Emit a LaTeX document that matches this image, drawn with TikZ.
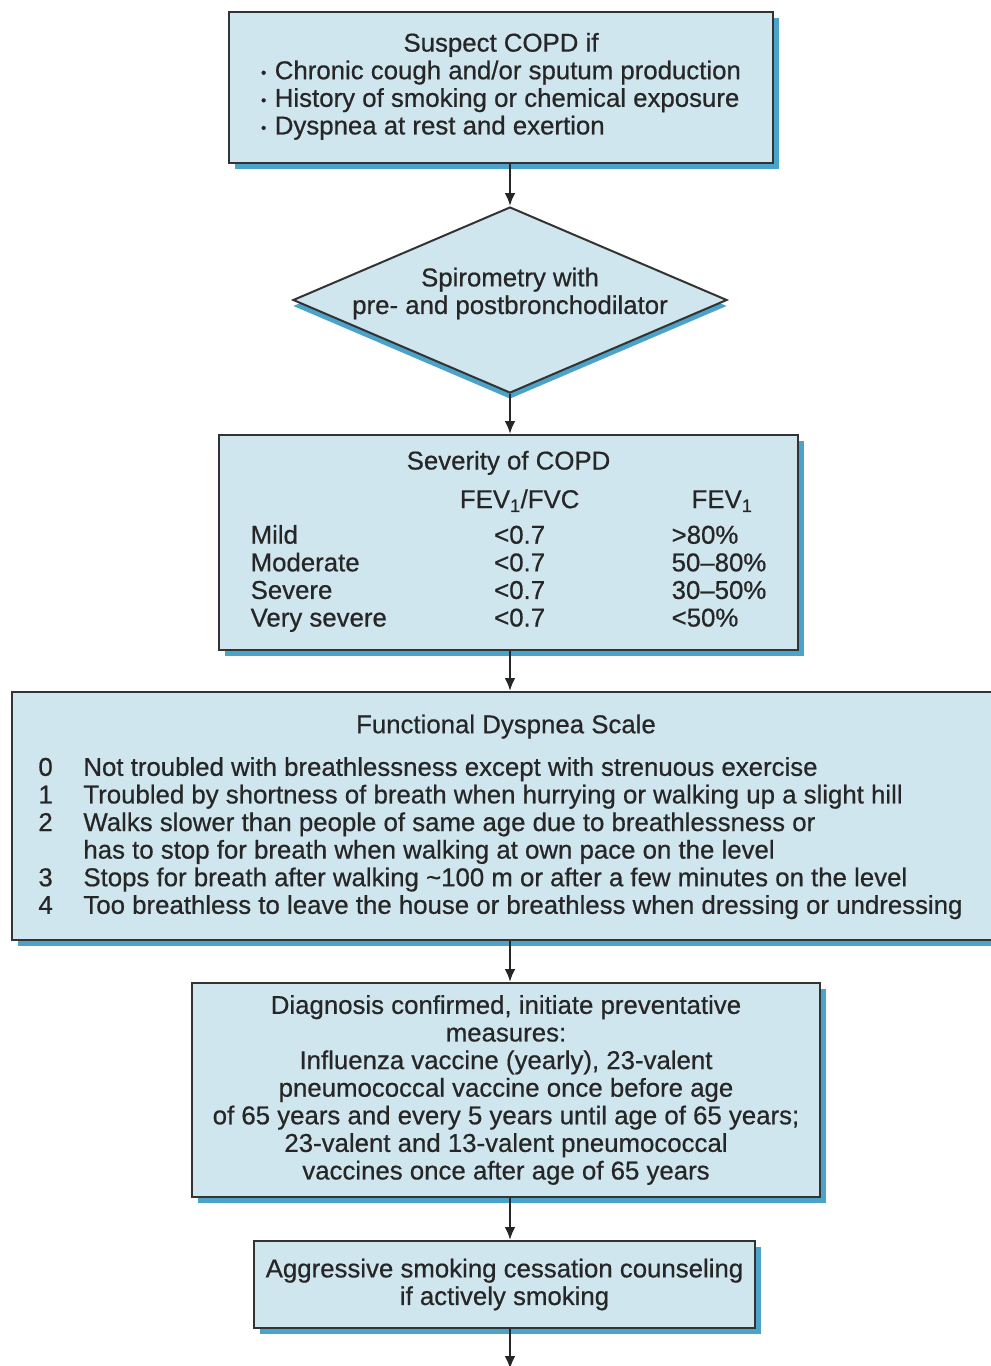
\documentclass[tikz,border=0pt]{standalone}
\usepackage{fontspec}
\setmainfont[FakeBold=0.6]{Liberation Sans}
\usepackage{array}
\usetikzlibrary{arrows.meta,shapes.geometric,shadows}
\definecolor{boxfill}{HTML}{D0E6EF}
\definecolor{boxline}{HTML}{333333}
\definecolor{shadowblue}{HTML}{4BA3C9}
\definecolor{inkgray}{HTML}{262626}
% small round bullet for the symptom list
\newcommand{\listdot}{{\fontsize{15}{15}\selectfont\raisebox{1.5pt}{•}}\hspace{8.5pt}}
\begin{document}
\begin{tikzpicture}[x=1pt,y=-1pt,
  every node/.style={text=inkgray, font=\fontsize{25.8}{27.6}\selectfont},
  flowbox/.style={draw=boxline, line width=2pt, fill=boxfill, inner sep=0pt,
    drop shadow={shadow xshift=6pt, shadow yshift=-6pt, fill=shadowblue, opacity=1}},
  flowdiamond/.style={diamond, draw=boxline, line width=2pt, fill=boxfill, inner sep=0pt,
    aspect=2.33,
    drop shadow={shadow xshift=0pt, shadow yshift=-6pt, fill=shadowblue, opacity=1}},
  plain/.style={inner sep=0pt},
  flowarrow/.style={draw=black!85, line width=2.4pt, -{Latex[length=13pt,width=11pt]}}]
\useasboundingbox (0,0) rectangle (991,1366);

% step 1: suspicion
\node[flowbox, minimum width=544pt, minimum height=151pt] (b1) at (501,87.5)
  {\begin{tabular}{@{}l@{}}
    \multicolumn{1}{@{}c@{}}{Suspect COPD if}\\
    \listdot Chronic cough and/or sputum production\\
    \listdot History of smoking or chemical exposure\\
    \listdot Dyspnea at rest and exertion
  \end{tabular}};

% step 2: spirometry
\node[flowdiamond, minimum width=434pt, minimum height=186pt] (sp) at (510,300) {};
\node[plain, align=center] (sptext) at (510,293.5)
  {Spirometry with\\pre- and postbronchodilator};

% step 3: severity table
\node[flowbox, minimum width=579pt, minimum height=215pt] (b3) at (508.5,542.5)
  {\begin{tabular}{@{}p{209pt}@{}>{\centering\arraybackslash}p{120pt}@{\hspace{92pt}}l@{}}
    \multicolumn{3}{@{}c@{}}{Severity of COPD}\\[11pt]
    & FEV\textsubscript{1}/FVC & \multicolumn{1}{c@{}}{FEV\textsubscript{1}}\\[8pt]
    Mild & <0.7 & >80\%\\
    Moderate & <0.7 & 50–80\%\\
    Severe & <0.7 & 30–50\%\\
    Very severe & <0.7 & <50\%
  \end{tabular}};

% step 4: dyspnea scale
\node[flowbox, minimum width=996pt, minimum height=248pt] (b4) at (510,816) {};
\node[plain] (b4text) at (500.5,818)
  {\begin{tabular}{@{}p{45pt}@{}l@{}}
    \multicolumn{2}{@{}c@{}}{\hspace{11pt}Functional Dyspnea Scale}\\[15pt]
    0 & Not troubled with breathlessness except with strenuous exercise\\
    1 & Troubled by shortness of breath when hurrying or walking up a slight hill\\
    2 & Walks slower than people of same age due to breathlessness or\\
      & has to stop for breath when walking at own pace on the level\\
    3 & Stops for breath after walking \textasciitilde100 m or after a few minutes on the level\\
    4 & Too breathless to leave the house or breathless when dressing or undressing
  \end{tabular}};

% step 5: preventative measures
\node[flowbox, minimum width=628pt, minimum height=214pt, align=center] (b5) at (506,1090)
  {Diagnosis confirmed, initiate preventative\\
   measures:\\
   Influenza vaccine (yearly), 23-valent\\
   pneumococcal vaccine once before age\\
   of 65 years and every 5 years until age of 65 years;\\
   23-valent and 13-valent pneumococcal\\
   vaccines once after age of 65 years};

% step 6: counseling
\node[flowbox, minimum width=501pt, minimum height=87pt, align=center] (b6) at (504.5,1284.5)
  {Aggressive smoking cessation counseling\\if actively smoking};

\coordinate (next) at (510,1369);

% connectors
\draw[flowarrow] (b1.south -| sp.north) -- (sp.north);
\draw[flowarrow] (sp.south) -- (sp.south |- b3.north);
\draw[flowarrow] (b3.south -| sp.south) -- (b4.north -| sp.south);
\draw[flowarrow] (b4.south -| sp.south) -- (b5.north -| sp.south);
\draw[flowarrow] (b5.south -| sp.south) -- (b6.north -| sp.south);
\draw[flowarrow] (b6.south -| next) -- (next);
\end{tikzpicture}
\end{document}
